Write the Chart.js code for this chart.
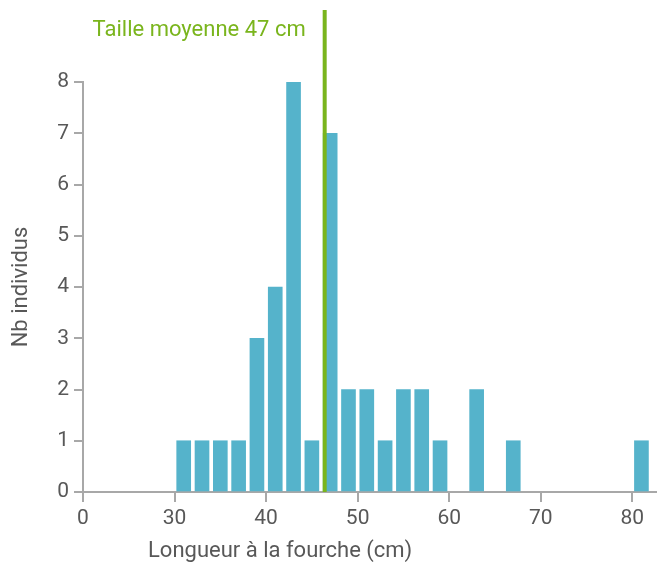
<!DOCTYPE html>
<html lang="fr">
<head>
  <meta charset="UTF-8" />
  <title>Longueur à la fourche</title>
  <script src="https://cdn.jsdelivr.net/npm/chart.js@4.4.1/dist/chart.umd.min.js"></script>
  <style>
    body { margin: 0; background: #fff; }
    #wrap { width: 657px; height: 562px; }
  </style>
</head>
<body>
<div id="wrap"><canvas id="chart"></canvas></div>
<script>
  // longueur (cm) -> nombre d'individus
  const lengths = [31, 33, 35, 37, 39, 41, 43, 45, 47, 49, 51, 53, 55, 57, 59, 63, 67, 81];
  const counts  = [1, 1, 1, 1, 3, 4, 8, 1, 7, 2, 2, 1, 2, 2, 1, 2, 1, 1];

  // axe x coupé : la position 20 porte le libellé "0"
  const xTickValues = [20, 30, 40, 50, 60, 70, 80];
  const xTickLabels = ['0', '30', '40', '50', '60', '70', '80'];

  const meanLine = 46.4;
  const meanLabel = 'Taille moyenne 47 cm';
  const xTitle = 'Longueur à la fourche (cm)';

  const grey = '#a8a8a8';
  const textGrey = '#585858';
  const font = "Roboto, 'DejaVu Sans', sans-serif";

  const meanPlugin = {
    id: 'meanLine',
    afterDatasetsDraw(chart) {
      const ctx = chart.ctx;
      const x = chart.scales.x.getPixelForValue(meanLine);
      ctx.save();
      ctx.strokeStyle = '#7ab51d';
      ctx.lineWidth = 4;
      ctx.beginPath();
      ctx.moveTo(x, 10);
      ctx.lineTo(x, chart.chartArea.bottom);
      ctx.stroke();
      ctx.fillStyle = '#7ab51d';
      ctx.font = '22px ' + font;
      ctx.textAlign = 'right';
      ctx.textBaseline = 'alphabetic';
      ctx.fillText(meanLabel, x - 19, 36);
      // titre de l'axe x, décalé à gauche comme sur l'original
      ctx.fillStyle = textGrey;
      ctx.textAlign = 'left';
      ctx.fillText(xTitle, 148, 557);
      ctx.restore();
    }
  };

  new Chart(document.getElementById('chart'), {
    type: 'bar',
    data: {
      datasets: [{
        data: lengths.map((l, i) => ({ x: l, y: counts[i] })),
        backgroundColor: '#55b3cb',
        barThickness: 14
      }]
    },
    options: {
      responsive: true,
      maintainAspectRatio: false,
      animation: false,
      layout: { padding: { top: 82, right: 0, left: 8, bottom: 0 } },
      plugins: { legend: { display: false }, tooltip: { enabled: false } },
      scales: {
        x: {
          type: 'linear',
          offset: false,
          min: 20,
          max: 82.7,
          afterBuildTicks: s => { s.ticks = xTickValues.map(v => ({ value: v })); },
          afterFit: s => { s.height = 70; },
          ticks: {
            callback: v => xTickLabels[xTickValues.indexOf(v)],
            color: textGrey,
            font: { family: font, size: 21 },
            padding: 4,
            maxRotation: 0,
            autoSkip: false
          },
          grid: { offset: false, drawOnChartArea: false, drawTicks: true, tickLength: 10, color: grey, lineWidth: 2 },
          border: { display: true, color: grey, width: 2 }
        },
        y: {
          min: 0,
          max: 8,
          afterFit: s => { s.width = 75; },
          ticks: {
            stepSize: 1,
            color: textGrey,
            font: { family: font, size: 21 },
            padding: 5
          },
          grid: { drawOnChartArea: false, drawTicks: true, tickLength: 9, color: grey, lineWidth: 2 },
          border: { display: true, color: grey, width: 2 },
          title: {
            display: true,
            text: 'Nb individus',
            color: textGrey,
            font: { family: font, size: 22 },
            padding: { top: 0, bottom: 0 }
          }
        }
      }
    },
    plugins: [meanPlugin]
  });
</script>
</body>
</html>
